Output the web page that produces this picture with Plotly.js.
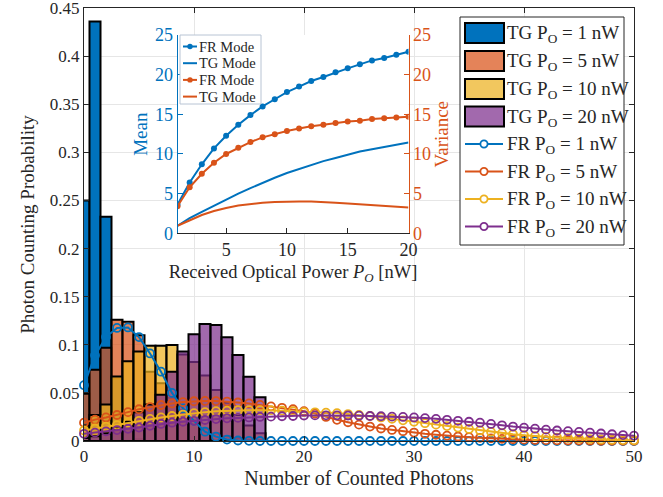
<!DOCTYPE html>
<html>
<head>
<meta charset="utf-8">
<script src="https://cdn.plot.ly/plotly-3.0.1.min.js"></script>
<style>
  html, body { margin: 0; padding: 0; background: #fff; }
  #chart { width: 663px; height: 497px; }
</style>
</head>
<body>
<div id="chart"></div>
<script>
// Photon counts for the truncated-Gaussian (TG) histograms
const tgCounts = [0, 1, 2, 3, 4, 5, 6, 7, 8, 9, 10, 11, 12, 13, 14, 15, 16];
const tg1nW  = [0.250, 0.436, 0.233, 0.065, 0.014, 0.002, 0, 0, 0, 0, 0, 0, 0, 0, 0, 0, 0];
const tg5nW  = [0.049, 0.074, 0.097, 0.126, 0.124, 0.110, 0.072, 0.060, 0.045, 0.032, 0.021, 0.013, 0.008, 0.005, 0.003, 0.0015, 0.0008];
const tg10nW = [0.016, 0.027, 0.038, 0.067, 0.083, 0.093, 0.099, 0.099, 0.0998, 0.090, 0.082, 0.068, 0.053, 0.040, 0.027, 0.016, 0.008];
const tg20nW = [0.003, 0.005, 0.008, 0.013, 0.020, 0.030, 0.038, 0.048, 0.072, 0.093, 0.111, 0.1216, 0.1206, 0.1078, 0.0894, 0.0668, 0.0454];

// Photon counts for the free-running (FR) distributions
const frCounts = [0, 1, 2, 3, 4, 5, 6, 7, 8, 9, 10, 11, 12, 13, 14, 15, 16, 17, 18, 19, 20,
                  21, 22, 23, 24, 25, 26, 27, 28, 29, 30, 31, 32, 33, 34, 35, 36, 37, 38, 39, 40,
                  41, 42, 43, 44, 45, 46, 47, 48, 49, 50];
const fr1nW = [0.058, 0.089, 0.108, 0.1175, 0.118, 0.108, 0.091, 0.072, 0.050, 0.034, 0.021,
               0.0097, 0.0045, 0.0015, 0.0005, 0.0002, 0, 0, 0, 0, 0,
               0, 0, 0, 0, 0, 0, 0, 0, 0, 0, 0, 0, 0, 0, 0, 0, 0, 0, 0, 0,
               0, 0, 0, 0, 0, 0, 0, 0, 0, 0];
const fr5nW = [0.019, 0.0222, 0.0245, 0.027, 0.030, 0.033, 0.0352, 0.0374, 0.039, 0.0405, 0.0413,
               0.0416, 0.0415, 0.041, 0.040, 0.039, 0.0375, 0.036, 0.0345, 0.033, 0.031,
               0.0285, 0.025, 0.022, 0.0195, 0.017, 0.015, 0.013, 0.0115, 0.0102, 0.0088,
               0.0075, 0.0065, 0.0055, 0.0047, 0.004, 0.0033, 0.0027, 0.0022, 0.0018, 0.0014,
               0.0011, 0.0009, 0.0007, 0.0005, 0.0004, 0.0003, 0.0002, 0.0002, 0.0001, 0.0001];
const fr10nW = [0.011, 0.013, 0.015, 0.0166, 0.019, 0.021, 0.023, 0.0245, 0.026, 0.0275, 0.029,
                0.030, 0.031, 0.0315, 0.032, 0.032, 0.032, 0.032, 0.0315, 0.031, 0.030,
                0.0298, 0.0295, 0.029, 0.028, 0.027, 0.026, 0.0245, 0.023, 0.0215, 0.020,
                0.0185, 0.017, 0.0155, 0.014, 0.0125, 0.011, 0.0095, 0.0082, 0.007, 0.006,
                0.005, 0.0043, 0.0036, 0.003, 0.0025, 0.002, 0.0016, 0.0013, 0.001, 0.0008];
const fr20nW = [0.0075, 0.0087, 0.010, 0.0114, 0.0127, 0.014, 0.0158, 0.0177, 0.019, 0.020, 0.021,
                0.0218, 0.0228, 0.0236, 0.024, 0.0245, 0.025, 0.0253, 0.0257, 0.026, 0.0265,
                0.0266, 0.0267, 0.0267, 0.0265, 0.0263, 0.026, 0.0257, 0.0253, 0.025, 0.0245,
                0.0238, 0.023, 0.022, 0.021, 0.020, 0.019, 0.0177, 0.0163, 0.015, 0.0138,
                0.0128, 0.0118, 0.0109, 0.0102, 0.0095, 0.0087, 0.0078, 0.007, 0.0062, 0.0055];

// Inset: mean and variance versus received optical power
const powerNW = [1, 2, 3, 4, 5, 6, 7, 8, 9, 10, 11, 12, 13, 14, 15, 16, 17, 18, 19, 20];
const frMean = [3.6, 6.4, 8.7, 10.7, 12.3, 13.7, 14.9, 16.0, 16.9, 17.8, 18.5, 19.2, 19.7, 20.3, 20.8, 21.3, 21.8, 22.1, 22.5, 22.9];
const tgMean = [0.95, 1.9, 2.7, 3.5, 4.3, 5.0, 5.7, 6.4, 7.0, 7.6, 8.1, 8.6, 9.1, 9.5, 9.9, 10.3, 10.6, 10.9, 11.2, 11.45];
const frVar  = [3.4, 5.8, 7.5, 8.9, 10.0, 10.8, 11.5, 12.1, 12.5, 12.9, 13.2, 13.5, 13.7, 13.9, 14.1, 14.2, 14.4, 14.5, 14.6, 14.7];
const tgVar  = [0.95, 1.6, 2.3, 2.8, 3.2, 3.5, 3.7, 3.85, 3.95, 4.0, 4.02, 4.0, 3.95, 3.85, 3.75, 3.65, 3.55, 3.45, 3.35, 3.25];

// Axis tick positions
const probTicks = [0, 0.05, 0.1, 0.15, 0.2, 0.25, 0.3, 0.35, 0.4, 0.45];
const photonTicks = [0, 10, 20, 30, 40, 50];
const powerTicks = [5, 10, 15, 20];
const momentTicks = [0, 5, 10, 15, 20, 25];

// Legend labels
const tgLabels = ['TG P<sub>O</sub> = 1 nW', 'TG P<sub>O</sub> = 5 nW', 'TG P<sub>O</sub> = 10 nW', 'TG P<sub>O</sub> = 20 nW'];
const frLabels = ['FR P<sub>O</sub> = 1 nW', 'FR P<sub>O</sub> = 5 nW', 'FR P<sub>O</sub> = 10 nW', 'FR P<sub>O</sub> = 20 nW'];
const insetLabels = ['FR Mode', 'TG Mode', 'FR Mode', 'TG Mode'];

const BLUE = '#0072BD', ORANGE = '#D95319', YELLOW = '#EDB120', PURPLE = '#7E2F8E';
const LINE_COLORS = [BLUE, ORANGE, YELLOW, PURPLE];
const BAR_FILLS = ['rgba(0,114,189,1)', 'rgba(217,83,25,0.72)', 'rgba(237,177,32,0.72)', 'rgba(126,47,142,0.72)'];
const SERIF = "'Liberation Serif', 'Times New Roman', Times, serif";
const INK = '#262626';

// Plot area in pixels (margins below), used to place the hand-built legends
const M = { l: 84, r: 29, t: 8, b: 56 }, W = 663, H = 497;
const PW = W - M.l - M.r, PH = H - M.t - M.b;
const px = v => (v - M.l) / PW;          // pixel x -> paper x
const py = v => (H - M.b - v) / PH;      // pixel y -> paper y

function tgBar(y, i) {
  return {
    type: 'bar', x: tgCounts, y: y, width: 1, name: tgLabels[i], showlegend: false,
    marker: { color: BAR_FILLS[i], line: { color: '#000', width: 2 } },
    hoverinfo: 'skip'
  };
}
function frLine(y, i) {
  const c = LINE_COLORS[i];
  return {
    type: 'scatter', mode: 'lines+markers', x: frCounts, y: y, name: frLabels[i],
    showlegend: false, cliponaxis: false,
    line: { color: c, width: 2 },
    marker: { symbol: 'circle-open', size: 8, color: c, line: { width: 1.8, color: c } },
    hoverinfo: 'skip'
  };
}
function insetLine(y, color, name, dots, yax) {
  return {
    type: 'scatter', mode: dots ? 'lines+markers' : 'lines',
    x: powerNW, y: y, name: name, xaxis: 'x2', yaxis: yax, showlegend: false,
    line: { color: color, width: 2 },
    marker: { symbol: 'circle', size: 6, color: color },
    hoverinfo: 'skip'
  };
}

const traces = [
  tgBar(tg1nW, 0), tgBar(tg5nW, 1), tgBar(tg10nW, 2), tgBar(tg20nW, 3),
  frLine(fr1nW, 0), frLine(fr5nW, 1), frLine(fr10nW, 2), frLine(fr20nW, 3),
  insetLine(frMean, BLUE,   insetLabels[0], true,  'y2'),
  insetLine(tgMean, BLUE,   insetLabels[1], false, 'y2'),
  insetLine(frVar,  ORANGE, insetLabels[2], true,  'y3'),
  insetLine(tgVar,  ORANGE, insetLabels[3], false, 'y3')
];

// ---- hand-built legends (shapes for the keys, annotations for the labels) ----
const shapes = [], annotations = [];
function rectPx(x0, y0, x1, y1, fill, lineColor, lineWidth) {
  shapes.push({ type: 'rect', xref: 'paper', yref: 'paper', layer: 'above',
    x0: px(x0), x1: px(x1), y0: py(y1), y1: py(y0),
    fillcolor: fill, line: { color: lineColor, width: lineWidth } });
}
function linePx(x0, x1, y, color) {
  shapes.push({ type: 'line', xref: 'paper', yref: 'paper', layer: 'above',
    x0: px(x0), x1: px(x1), y0: py(y), y1: py(y), line: { color: color, width: 2 } });
}
function circlePx(cx, cy, r, color, filled) {
  shapes.push({ type: 'circle', xref: 'paper', yref: 'paper', layer: 'above',
    x0: px(cx - r), x1: px(cx + r), y0: py(cy + r), y1: py(cy - r),
    fillcolor: filled ? color : '#ffffff', line: { color: color, width: filled ? 0 : 1.8 } });
}
function labelPx(x, y, text, size, color) {
  annotations.push({ xref: 'paper', yref: 'paper', x: px(x), y: py(y), xanchor: 'left', yanchor: 'middle',
    text: text, showarrow: false, borderpad: 0, font: { family: SERIF, size: size, color: color } });
}

// main legend
rectPx(460, 17, 624, 245, '#ffffff', INK, 1);
const rowY = [33, 61, 89, 116.5, 144, 171.5, 199, 226.5];
tgLabels.forEach((t, i) => {
  rectPx(465, rowY[i] - 10, 504, rowY[i] + 10, BAR_FILLS[i], '#000', 2);
  labelPx(506, rowY[i] + 1, t, 19, INK);
});
frLabels.forEach((t, i) => {
  const y = rowY[i + 4];
  linePx(465, 503, y, LINE_COLORS[i]);
  circlePx(484, y, 3.6, LINE_COLORS[i], false);
  labelPx(506, y + 1, t, 19, INK);
});

// inset legend
rectPx(180, 35, 261, 104, '#ffffff', '#b8c4d4', 1);
const insetRowY = [46.5, 63.2, 79.9, 96.6];
const insetColors = [BLUE, BLUE, ORANGE, ORANGE];
insetLabels.forEach((t, i) => {
  linePx(183, 197, insetRowY[i], insetColors[i]);
  if (i % 2 === 0) circlePx(190, insetRowY[i], 2.7, insetColors[i], true);
  labelPx(198, insetRowY[i], t, 14.5, INK);
});

const axisBase = {
  ticks: 'inside', ticklen: 5, tickwidth: 1, showline: true, linewidth: 1,
  zeroline: false, ticklabeloverflow: 'allow'
};

const layout = {
  width: W, height: H,
  margin: M,
  paper_bgcolor: '#fff', plot_bgcolor: '#fff',
  font: { family: SERIF, size: 17, color: INK },
  barmode: 'overlay',
  showlegend: false,
  xaxis: Object.assign({}, axisBase, {
    domain: [0, 1], range: [0, 50], tickvals: photonTicks,
    mirror: 'ticks', linecolor: INK, tickcolor: INK,
    showgrid: true, gridcolor: '#e6e6e6',
    tickfont: { family: SERIF, size: 17, color: INK },
    title: { text: 'Number of Counted Photons', font: { family: SERIF, size: 20, color: INK }, standoff: 5 }
  }),
  yaxis: Object.assign({}, axisBase, {
    domain: [0, 1], range: [0, 0.45], tickvals: probTicks,
    mirror: 'ticks', linecolor: INK, tickcolor: INK,
    showgrid: true, gridcolor: '#e6e6e6',
    tickfont: { family: SERIF, size: 17, color: INK },
    title: { text: 'Photon Counting Probability', font: { family: SERIF, size: 19, color: INK }, standoff: 10 }
  }),
  xaxis2: Object.assign({}, axisBase, {
    domain: [0.170, 0.590], anchor: 'y2', range: [1, 20], tickvals: powerTicks,
    linecolor: INK, tickcolor: INK, showgrid: false,
    tickfont: { family: SERIF, size: 18, color: INK },
    title: { text: 'Received Optical Power <i>P<sub>O</sub></i> [nW]', font: { family: SERIF, size: 18.5, color: INK }, standoff: 6 }
  }),
  yaxis2: Object.assign({}, axisBase, {
    domain: [0.4797, 0.9376], anchor: 'x2', range: [0, 25], tickvals: momentTicks,
    linecolor: BLUE, tickcolor: BLUE, showgrid: false,
    tickfont: { family: SERIF, size: 18, color: BLUE },
    title: { text: 'Mean', font: { family: SERIF, size: 19, color: BLUE }, standoff: 2 }
  }),
  yaxis3: Object.assign({}, axisBase, {
    overlaying: 'y2', side: 'right', anchor: 'x2', range: [0, 25], tickvals: momentTicks,
    linecolor: ORANGE, tickcolor: ORANGE, showgrid: false,
    tickfont: { family: SERIF, size: 18, color: ORANGE },
    title: { text: 'Variance', font: { family: SERIF, size: 19, color: ORANGE }, standoff: 2 }
  }),
  shapes: shapes,
  annotations: annotations
};

Plotly.newPlot('chart', traces, layout, { displayModeBar: false, staticPlot: true });
</script>
</body>
</html>
